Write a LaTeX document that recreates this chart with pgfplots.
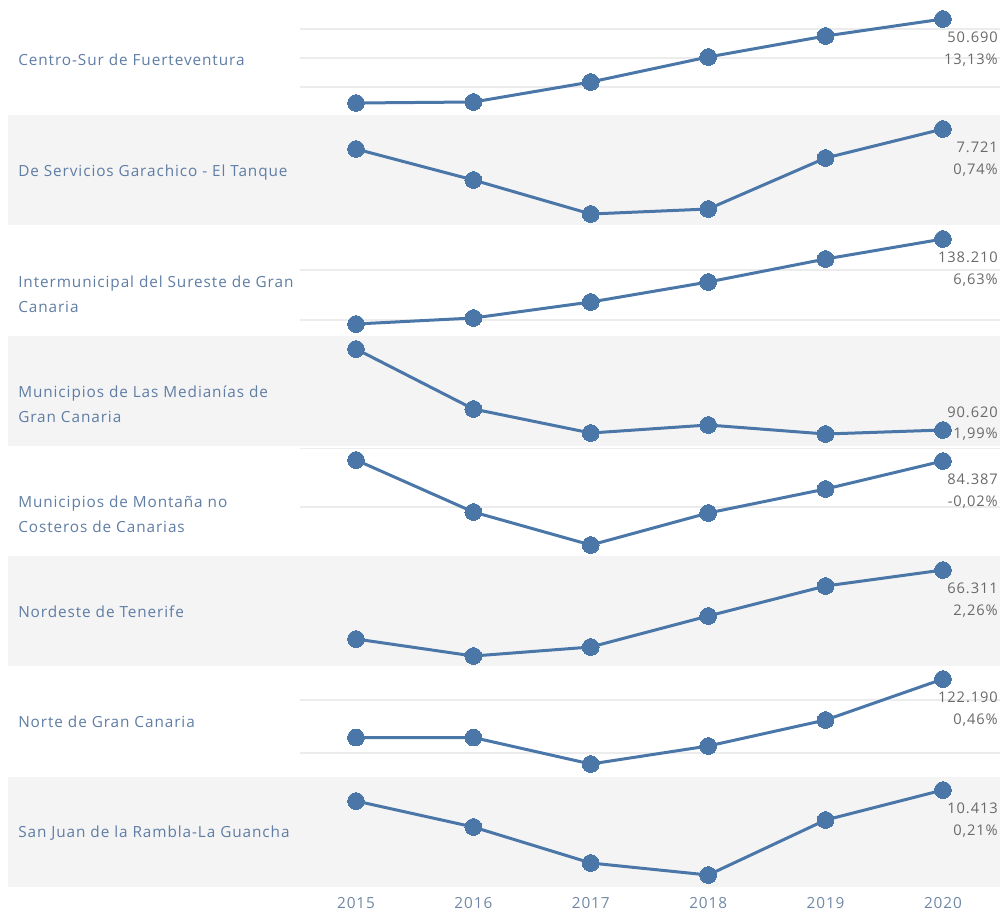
\documentclass[border=0pt]{standalone}
\usepackage{pgfplots}
\pgfplotsset{compat=1.18}
\usepackage{fontspec}
\setmainfont{Open Sans}[LetterSpace=6]
\definecolor{lineblue}{RGB}{74,118,168}
\definecolor{labblue}{RGB}{95,125,165}
\definecolor{numgray}{RGB}{105,105,105}
\definecolor{yeargray}{RGB}{112,136,165}
\definecolor{bandgray}{RGB}{244,244,244}
\definecolor{gridc}{RGB}{236,236,236}
\pgfplotsset{
  rowax/.style={anchor=south west, width=525pt, height=82.725pt, scale only axis,
    xmin=2014.523, xmax=2020.486, ymin=0, ymax=110.3,
    axis line style={draw=none}, tick style={draw=none}, major tick length=0pt,
    xtick=\empty, yticklabels={}, ymajorgrids, grid style={gridc, line width=0.9pt},
    clip=false},
  series/.style={lineblue, line width=2.25pt, mark=*, mark size=6.3pt,
    mark options={fill=lineblue, draw=lineblue, line width=0pt}},
}
\tikzset{
  endlab/.style={anchor=base east, font=\fontsize{11}{13}\selectfont, text=numgray, inner sep=0pt, xshift=41.25pt},
  rowlab/.style={anchor=base west, font=\fontsize{11.5}{13}\selectfont, text=labblue, inner sep=0pt},
}
\begin{document}
\begin{tikzpicture}
\path (0pt,0pt) rectangle (753.75pt,-687.75pt);
% grey bands (rows 2,4,6,8)
\fill[bandgray] (6pt,-86.175pt) rectangle (750pt,-168.9pt);
\fill[bandgray] (6pt,-251.625pt) rectangle (750pt,-334.35pt);
\fill[bandgray] (6pt,-417.075pt) rectangle (750pt,-499.8pt);
\fill[bandgray] (6pt,-582.525pt) rectangle (750pt,-665.25pt);

% row labels
\node[rowlab] at (13.5pt,-49.2pt) {Centro-Sur de Fuerteventura};
\node[rowlab] at (13.5pt,-132.2pt) {De Servicios Garachico - El Tanque};
\node[rowlab] at (13.5pt,-215.6pt) {Intermunicipal del Sureste de Gran};
\node[rowlab] at (13.5pt,-234.0pt) {Canaria};
\node[rowlab] at (13.5pt,-298.1pt) {Municipios de Las Medianías de};
\node[rowlab] at (13.5pt,-316.5pt) {Gran Canaria};
\node[rowlab] at (13.5pt,-380.6pt) {Municipios de Montaña no};
\node[rowlab] at (13.5pt,-399.0pt) {Costeros de Canarias};
\node[rowlab] at (13.5pt,-463.1pt) {Nordeste de Tenerife};
\node[rowlab] at (13.5pt,-545.6pt) {Norte de Gran Canaria};
\node[rowlab] at (13.5pt,-628.1pt) {San Juan de la Rambla-La Guancha};

% Row 1
\begin{axis}[rowax, at={(225pt,-86.175pt)}, ytick={27.9,56.9,85.9}]
\addplot[series] coordinates {(2015,11.9) (2016,12.9) (2017,32.9) (2018,57.9) (2019,78.9) (2020,95.9)};
\node[endlab, yshift=-17.6pt] at (axis cs:2020,95.9) {50.690};
\node[endlab, yshift=-34.1pt] at (axis cs:2020,95.9) {13,13\%};
\end{axis}
% Row 2
\begin{axis}[rowax, at={(225pt,-168.9pt)}, ytick=\empty]
\addplot[series] coordinates {(2015,76.2) (2016,45.2) (2017,11.2) (2018,16.2) (2019,67.2) (2020,96.2)};
\node[endlab, yshift=-17.6pt] at (axis cs:2020,96.2) {7.721};
\node[endlab, yshift=-34.1pt] at (axis cs:2020,96.2) {0,74\%};
\end{axis}
% Row 3
\begin{axis}[rowax, at={(225pt,-251.625pt)}, ytick={15.5,65.5}]
\addplot[series] coordinates {(2015,11.5) (2016,17.5) (2017,33.5) (2018,53.5) (2019,76.5) (2020,96.5)};
\node[endlab, yshift=-17.6pt] at (axis cs:2020,96.5) {138.210};
\node[endlab, yshift=-34.1pt] at (axis cs:2020,96.5) {6,63\%};
\end{axis}
% Row 4
\begin{axis}[rowax, at={(225pt,-334.35pt)}, ytick=\empty]
\addplot[series] coordinates {(2015,96.8) (2016,36.8) (2017,12.8) (2018,20.8) (2019,11.8) (2020,15.8)};
\node[endlab, yshift=9.4pt] at (axis cs:2020,15.8) {90.620};
\node[endlab, yshift=-6.4pt] at (axis cs:2020,15.8) {1,99\%};
\end{axis}
% Row 5
\begin{axis}[rowax, at={(225pt,-417.075pt)}, ytick={49.1,107.9}]
\addplot[series] coordinates {(2015,96.1) (2016,44.1) (2017,11.1) (2018,43.1) (2019,67.1) (2020,95.1)};
\node[endlab, yshift=-17.6pt] at (axis cs:2020,95.1) {84.387};
\node[endlab, yshift=-34.1pt] at (axis cs:2020,95.1) {-0,02\%};
\end{axis}
% Row 6
\begin{axis}[rowax, at={(225pt,-499.8pt)}, ytick=\empty]
\addplot[series] coordinates {(2015,27.4) (2016,10.4) (2017,19.4) (2018,50.4) (2019,80.4) (2020,96.4)};
\node[endlab, yshift=-17.6pt] at (axis cs:2020,96.4) {66.311};
\node[endlab, yshift=-34.1pt] at (axis cs:2020,96.4) {2,26\%};
\end{axis}
% Row 7
\begin{axis}[rowax, at={(225pt,-582.525pt)}, ytick={23.7,76.7}]
\addplot[series] coordinates {(2015,39.2) (2016,39.2) (2017,12.7) (2018,30.7) (2019,56.7) (2020,97.7)};
\node[endlab, yshift=-17.6pt] at (axis cs:2020,97.7) {122.190};
\node[endlab, yshift=-34.1pt] at (axis cs:2020,97.7) {0,46\%};
\end{axis}
% Row 8
\begin{axis}[rowax, at={(225pt,-665.25pt)}, ytick=\empty,
  xtick={2015,2016,2017,2018,2019,2020},
  xticklabels={2015,2016,2017,2018,2019,2020},
  xticklabel style={anchor=north, inner sep=0pt, yshift=-7.4pt, font=\fontsize{11.5}{13}\selectfont, text=yeargray}]
\addplot[series] coordinates {(2015,86) (2016,60) (2017,24) (2018,12) (2019,67) (2020,97)};
\node[endlab, yshift=-17.6pt] at (axis cs:2020,97) {10.413};
\node[endlab, yshift=-34.1pt] at (axis cs:2020,97) {0,21\%};
\end{axis}
\end{tikzpicture}
\end{document}
